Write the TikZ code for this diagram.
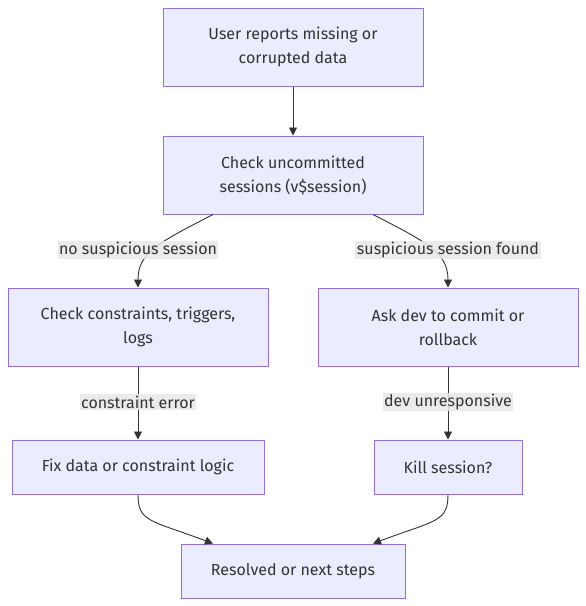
\documentclass[tikz,border=0pt]{standalone}
\usepackage{fontspec}
\setmainfont{Fira Sans}
\usetikzlibrary{arrows.meta,positioning}
\definecolor{NodeFill}{HTML}{ECECFF}
\definecolor{NodeBorder}{HTML}{9370DB}
\definecolor{EdgeGray}{HTML}{333333}
\definecolor{LabelBg}{HTML}{E8E8E8}

\tikzset{
  flowbox/.style={draw=NodeBorder,fill=NodeFill,line width=1pt,text=EdgeGray,
    align=center,inner sep=0pt,font=\fontsize{16}{24}\selectfont},
  edgelabel/.style={fill=LabelBg,fill opacity=0.85,text opacity=1,text=EdgeGray,
    inner sep=1.5pt,font=\fontsize{16}{20}\selectfont},
  flow/.style={draw=EdgeGray,line width=0.9pt,-{Triangle[length=8pt,width=8pt]}}
}

\begin{document}
\begin{tikzpicture}[x=1pt,y=-1pt]
  \useasboundingbox (0,0) rectangle (586,606);
  % steps
  \node[flowbox,minimum width=260pt,minimum height=78pt] (report) at (293,47)
    {User reports missing or\\corrupted data};
  \node[flowbox,minimum width=260pt,minimum height=78pt] (check) at (293,175)
    {Check uncommitted\\sessions (v\$session)};
  \node[flowbox,minimum width=260pt,minimum height=78pt] (constr) at (138,327)
    {Check constraints, triggers,\\logs};
  \node[flowbox,minimum width=260pt,minimum height=78pt] (askdev) at (448,327)
    {Ask dev to commit or\\rollback};
  \node[flowbox,minimum width=252pt,minimum height=54pt] (fixdata) at (138,467)
    {Fix data or constraint logic};
  \node[flowbox,minimum width=148pt,minimum height=54pt] (kill) at (448,467)
    {Kill session?};
  \node[flowbox,minimum width=224pt,minimum height=54pt] (resolved) at (293,571)
    {Resolved or next steps};

  % connectors
  \draw[flow] (report) -- (check);
  \draw[flow] ([xshift=-80pt]check.south) .. controls (160,242) and (138,252) .. (constr.north);
  \draw[flow] ([xshift=80pt]check.south) .. controls (426,242) and (448,252) .. (askdev.north);
  \draw[flow] (constr) -- (fixdata);
  \draw[flow] (askdev) -- (kill);
  \draw[flow] (fixdata.south) .. controls (138,522) and (150,520) .. ([xshift=-80pt]resolved.north);
  \draw[flow] (kill.south) .. controls (448,522) and (436,520) .. ([xshift=80pt]resolved.north);

  % edge labels
  \node[edgelabel] (lblnone) at (138,250) {no suspicious session};
  \node[edgelabel] (lblfound) at (448,250) {suspicious session found};
  \node[edgelabel] (lblerr) at (138,402) {constraint error};
  \node[edgelabel] (lbldev) at (448,402) {dev unresponsive};
\end{tikzpicture}
\end{document}
